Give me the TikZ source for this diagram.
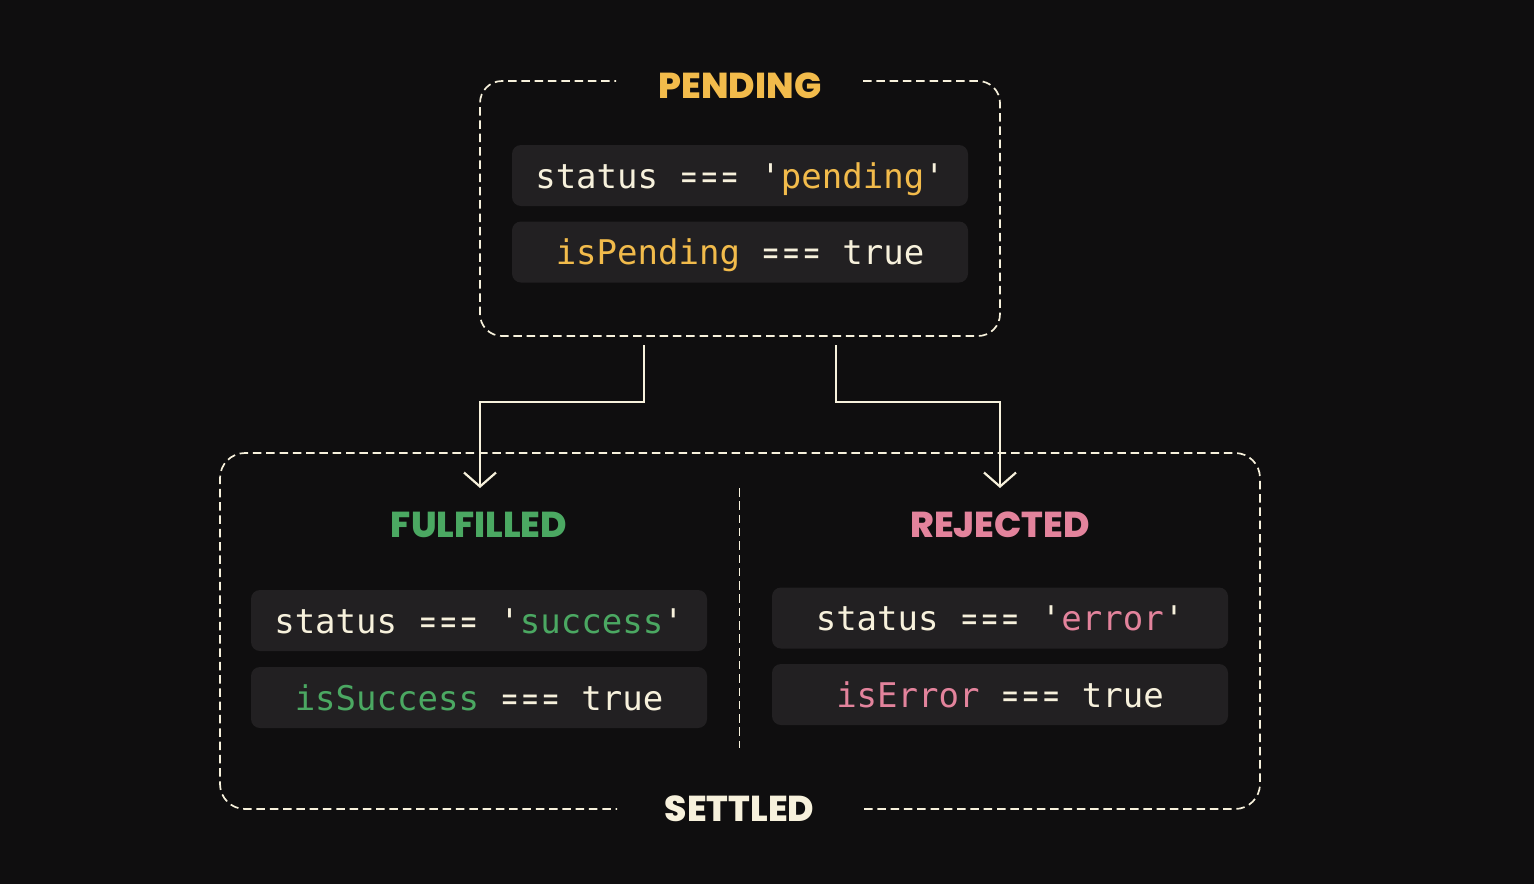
\documentclass[tikz,border=0pt]{standalone}
\usepackage{fontspec}
\setmainfont{Poppins}
\newfontfamily\headfont{Poppins ExtraBold}
\newfontfamily\codefont{DejaVu Sans Mono}
\usetikzlibrary{arrows.meta,calc}
\definecolor{bg}{HTML}{0F0E0F}
\definecolor{boxfill}{HTML}{222022}
\definecolor{cream}{HTML}{F7F1DC}
\definecolor{yel}{HTML}{F2BB4B}
\definecolor{grn}{HTML}{4BA862}
\definecolor{pnk}{HTML}{E3839C}
\newcommand{\oneeq}{\hbox to \fontcharwd\font`={\hss\scalebox{0.76}[1]{=}\hss}}
\newcommand{\teq}{\oneeq\oneeq\oneeq}
\begin{document}
\begin{tikzpicture}[x=1pt,y=-1pt,
  frame/.style={draw=cream, line width=1.7pt, dash pattern=on 8.5pt off 4.8pt, rounded corners=22pt},
  divider/.style={draw=cream, line width=1.7pt, dash pattern=on 8.5pt off 4.8pt},
  codebox/.style={fill=boxfill, rounded corners=9pt, minimum width=456pt, minimum height=61pt, inner sep=0pt},
  codetext/.style={anchor=base, text=cream, font=\codefont\fontsize{34}{40}\selectfont, inner sep=0pt},
  head/.style={anchor=base, font=\headfont\fontsize{36}{40}\selectfont, inner sep=0pt},
  flow/.style={draw=cream, line width=2.2pt, line join=miter, -{Straight Barb[length=14pt,width=32pt]}}
]
\path[use as bounding box, fill=bg] (0,0) rectangle (1534,884);

% PENDING group
\draw[frame] (863,81) -- (1000,81) -- (1000,336) -- (480,336) -- (480,81) -- (616,81);
\node[head, text=yel] (pendlbl) at (740,98) {PENDING};
\node[codebox] (p1) at (740,175.5) {};
\node[codetext] (p1t) at ($(p1.center)+(0,12.5)$) {status \teq{} '\textcolor{yel}{pending}'};
\node[codebox] (p2) at (740,252) {};
\node[codetext] (p2t) at ($(p2.center)+(0,12.5)$) {\textcolor{yel}{isPending} \teq{} true};

% SETTLED group
\draw[frame, rounded corners=25pt] (864,809) -- (1260,809) -- (1260,453) -- (220,453) -- (220,809) -- (617,809);
\node[head, text=cream] (settledlbl) at (739.5,821) {SETTLED};
\coordinate (d1) at (739.5,488);
\coordinate (d2) at (739.5,748);
\draw[divider] (d1) -- (d2);

% FULFILLED
\node[head, text=grn] (fullbl) at (479,537.5) {FULFILLED};
\node[codebox] (f1) at (479,620.5) {};
\node[codetext] (f1t) at ($(f1.center)+(0,12.5)$) {status \teq{} '\textcolor{grn}{success}'};
\node[codebox] (f2) at (479,697.5) {};
\node[codetext] (f2t) at ($(f2.center)+(0,12.5)$) {\textcolor{grn}{isSuccess} \teq{} true};

% REJECTED
\node[head, text=pnk] (rejlbl) at (1000,537) {REJECTED};
\node[codebox] (r1) at (1000,618) {};
\node[codetext] (r1t) at ($(r1.center)+(0,12.5)$) {status \teq{} '\textcolor{pnk}{error}'};
\node[codebox] (r2) at (1000,694.5) {};
\node[codetext] (r2t) at ($(r2.center)+(0,12.5)$) {\textcolor{pnk}{isError} \teq{} true};

% arrows
\coordinate (a1s) at (644,345);
\coordinate (a1e) at (480,488);
\coordinate (a2s) at (836,345);
\coordinate (a2e) at (1000,488);
\draw[flow] (a1s) -- ++(0,57) -| (a1e);
\draw[flow] (a2s) -- ++(0,57) -| (a2e);
\end{tikzpicture}
\end{document}
